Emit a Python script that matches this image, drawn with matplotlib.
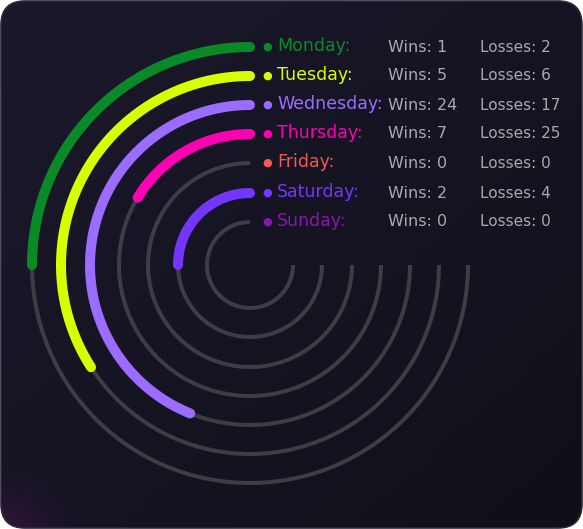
import numpy as np
import matplotlib
matplotlib.use("Agg")
from matplotlib import pyplot as plt
from matplotlib.patches import FancyBboxPatch

days = ['Monday', 'Tuesday', 'Wednesday', 'Thursday', 'Friday', 'Saturday', 'Sunday']
wins = [1, 5, 24, 7, 0, 2, 0]
losses = [2, 6, 17, 25, 0, 4, 0]
colors = ['#0a8a26', '#d7ff00', '#9b6cff', '#ff00b4', '#f4574d', '#7436ff', '#8a17ad']

W, H = 583, 529
fig = plt.figure(figsize=(W / 100, H / 100), dpi=100, facecolor='white')

# background card with a soft gradient
bg = fig.add_axes([0, 0, 1, 1])
bg.set_xlim(0, W)
bg.set_ylim(0, H)
bg.set_axis_off()
yy, xx = np.mgrid[0:H, 0:W]
t = (xx / W * 0.5 + (H - yy) / H * 0.5)
c0 = np.array([0x1b, 0x19, 0x2c]) / 255
c1 = np.array([0x10, 0x0f, 0x18]) / 255
img = c0[None, None, :] * (1 - t[..., None]) + c1[None, None, :] * t[..., None]
glow = np.exp(-((xx / 50.0) ** 2 + (yy / 35.0) ** 2))
img = img + glow[..., None] * (np.array([0x36, 0x14, 0x44]) / 255 - img) * 0.7
card = FancyBboxPatch((1, 1), W - 2, H - 2, boxstyle='round,pad=0,rounding_size=24',
                      facecolor='none', edgecolor='#2b2a3a', linewidth=1.2)
bg.add_patch(card)
im = bg.imshow(img, extent=(0, W, 0, H), origin='lower', zorder=0)
im.set_clip_path(card)

# radial bars
cx, cy, rmax = 250, 265, 240
ax = fig.add_axes([(cx - rmax) / W, (H - cy - rmax) / H, 2 * rmax / W, 2 * rmax / H],
                  projection='polar')
ax.set_theta_zero_location('N')
ax.set_theta_direction(1)
ax.set_rlim(0, rmax)
ax.set_axis_off()

px = 0.72
radii = [218, 189, 160, 131, 102, 72, 43]
full = np.deg2rad(270)
for day, w, l, col, r in zip(days, wins, losses, colors, radii):
    th = np.linspace(0, full, 300)
    ax.plot(th, np.full_like(th, r), color='#3c3e44', lw=4 * px, solid_capstyle='butt', zorder=2)
    frac = w / (w + l) if (w + l) > 0 else 0
    if frac > 0:
        th = np.linspace(0, full * frac, 200)
        ax.plot(th, np.full_like(th, r), color=col, lw=10 * px, solid_capstyle='round', zorder=3)
    ax.annotate('●', xy=(0, r), xytext=(17 * px, 0), textcoords='offset points',
                color=col, fontsize=8, va='center', ha='center')
    ax.annotate(day + ':', xy=(0, r), xytext=(27 * px, 1 * px), textcoords='offset points',
                color=col, fontsize=12.5, va='center', ha='left')
    ax.annotate('Wins: %d' % w, xy=(0, r), xytext=(388 - cx, 0), textcoords='offset pixels',
                color='#a9a9ad', fontsize=11.5, va='center', ha='left')
    ax.annotate('Losses: %d' % l, xy=(0, r), xytext=(480 - cx, 0), textcoords='offset pixels',
                color='#a9a9ad', fontsize=11, va='center', ha='left')

fig.savefig('out.png', dpi=100, facecolor='white')
